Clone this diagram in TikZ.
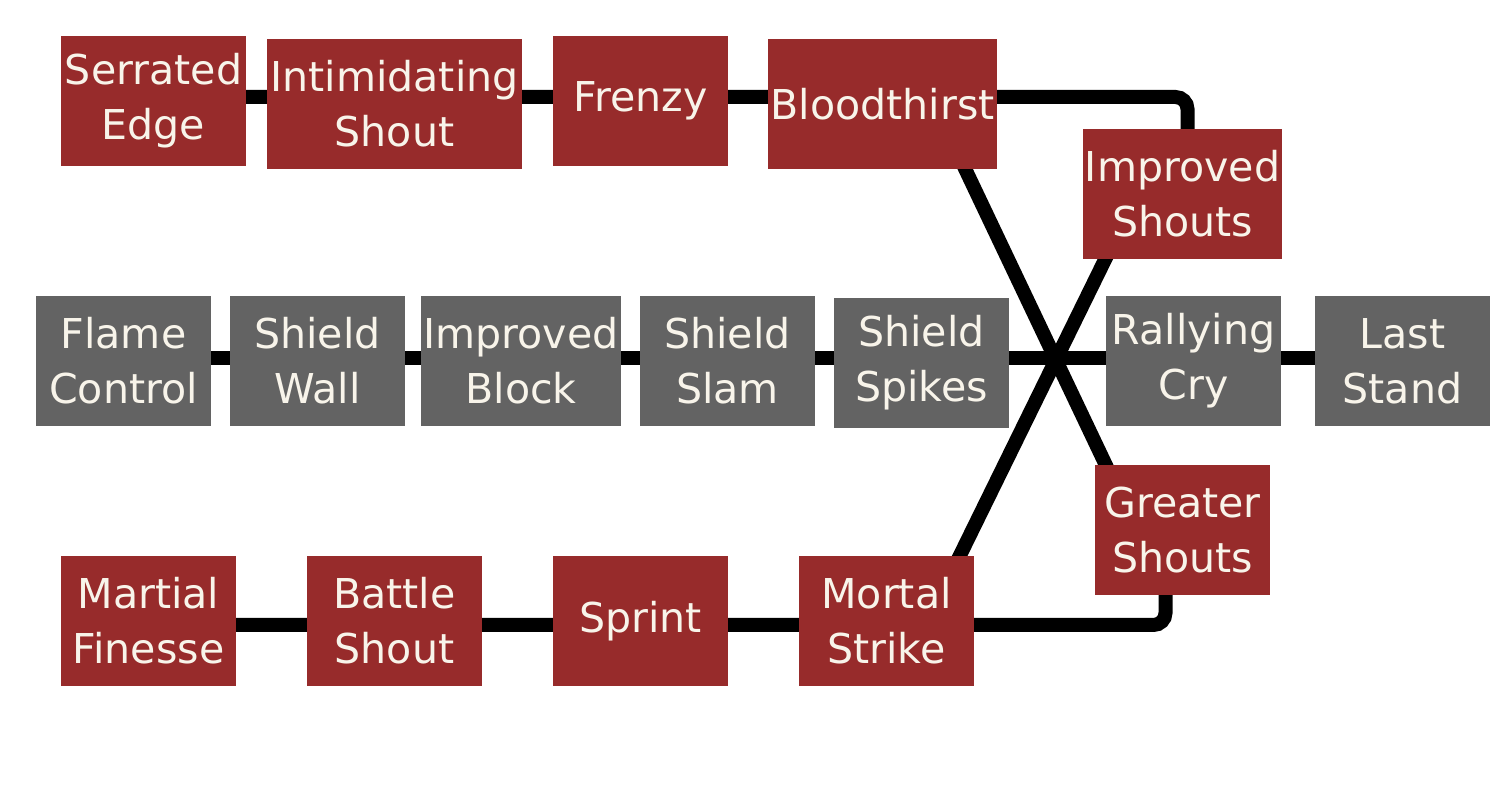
\documentclass[tikz,border=0pt]{standalone}
\usepackage{fontspec}
\setmainfont{DejaVu Sans}
\usetikzlibrary{backgrounds,calc}
\definecolor{skillred}{HTML}{972B2B}
\definecolor{skillgray}{HTML}{636363}
\definecolor{skilltext}{HTML}{F8F4EA}
\tikzset{
  skill/.style={minimum width=1.75cm, minimum height=1.3cm, inner sep=0.02cm, align=center,
    text=skilltext, font=\fontsize{11.7}{15.6}\selectfont},
  redskill/.style={skill, fill=skillred},
  grayskill/.style={skill, fill=skillgray},
  link/.style={line width=0.14cm, black}
}

\begin{document}
\begin{tikzpicture}
\useasboundingbox (0,0) rectangle (15,-8);
% top row
\node [redskill, minimum width=1.85cm] (se) at (1.535,-1.01) {Serrated\\Edge};
\node [redskill, minimum width=2.55cm] (is) at (3.945,-1.04) {Intimidating\\Shout};
\node [redskill] (fr) at (6.405,-1.01) {Frenzy};
\node [redskill, minimum width=2.29cm] (bt) at (8.825,-1.04) {Bloodthirst};
\node [redskill, minimum width=1.95cm] (ims) at (11.825,-1.94) {Improved\\Shouts};
% middle row
\node [grayskill] (fc) at (1.235,-3.61) {Flame\\Control};
\node [grayskill] (sw) at (3.175,-3.61) {Shield\\Wall};
\node [grayskill, minimum width=1.9cm] (ib) at (5.21,-3.61) {Improved\\Block};
\node [grayskill] (ss) at (7.275,-3.61) {Shield\\Slam};
\node [grayskill] (sk) at (9.215,-3.63) {Shield\\Spikes};
\node [grayskill] (rc) at (11.935,-3.61) {Rallying\\Cry};
\node [grayskill] (ls) at (14.025,-3.61) {Last\\Stand};
% bottom row
\node [redskill] (mf) at (1.485,-6.21) {Martial\\Finesse};
\node [redskill] (bs) at (3.945,-6.21) {Battle\\Shout};
\node [redskill] (sp) at (6.405,-6.21) {Sprint};
\node [redskill] (ms) at (8.865,-6.21) {Mortal\\Strike};
\node [redskill] (gs) at (11.825,-5.30) {Greater\\Shouts};
% links
\begin{scope}[on background layer]
\fill [white] (0,0) rectangle (15,-8);
\coordinate (top) at ($(se.center)+(0,0.04)$);
\coordinate (bot) at ($(mf.center)+(0,-0.04)$);
\draw [link, rounded corners=0.12cm] (top) -- (top -| bt.center) -| ($(ims.center)+(0.05,0)$);
\draw [link] ($(fc.center)+(0,0.03)$) -- ($(ls.center)+(0,0.03)$);
\draw [link, rounded corners=0.12cm] (bot) -- (bot -| ms.center) -| ($(gs.center)+(-0.17,0)$);
\draw [link, shorten <=-0.2cm, shorten >=-0.2cm] ($(bt.south)+(0.83,0)$) -- ($(gs.north)+(-0.77,0)$);
\draw [link, shorten <=-0.2cm, shorten >=-0.2cm] ($(ms.north)+(0.735,0)$) -- ($(ims.south)+(-0.775,0)$);
\end{scope}
\end{tikzpicture}
\end{document}
